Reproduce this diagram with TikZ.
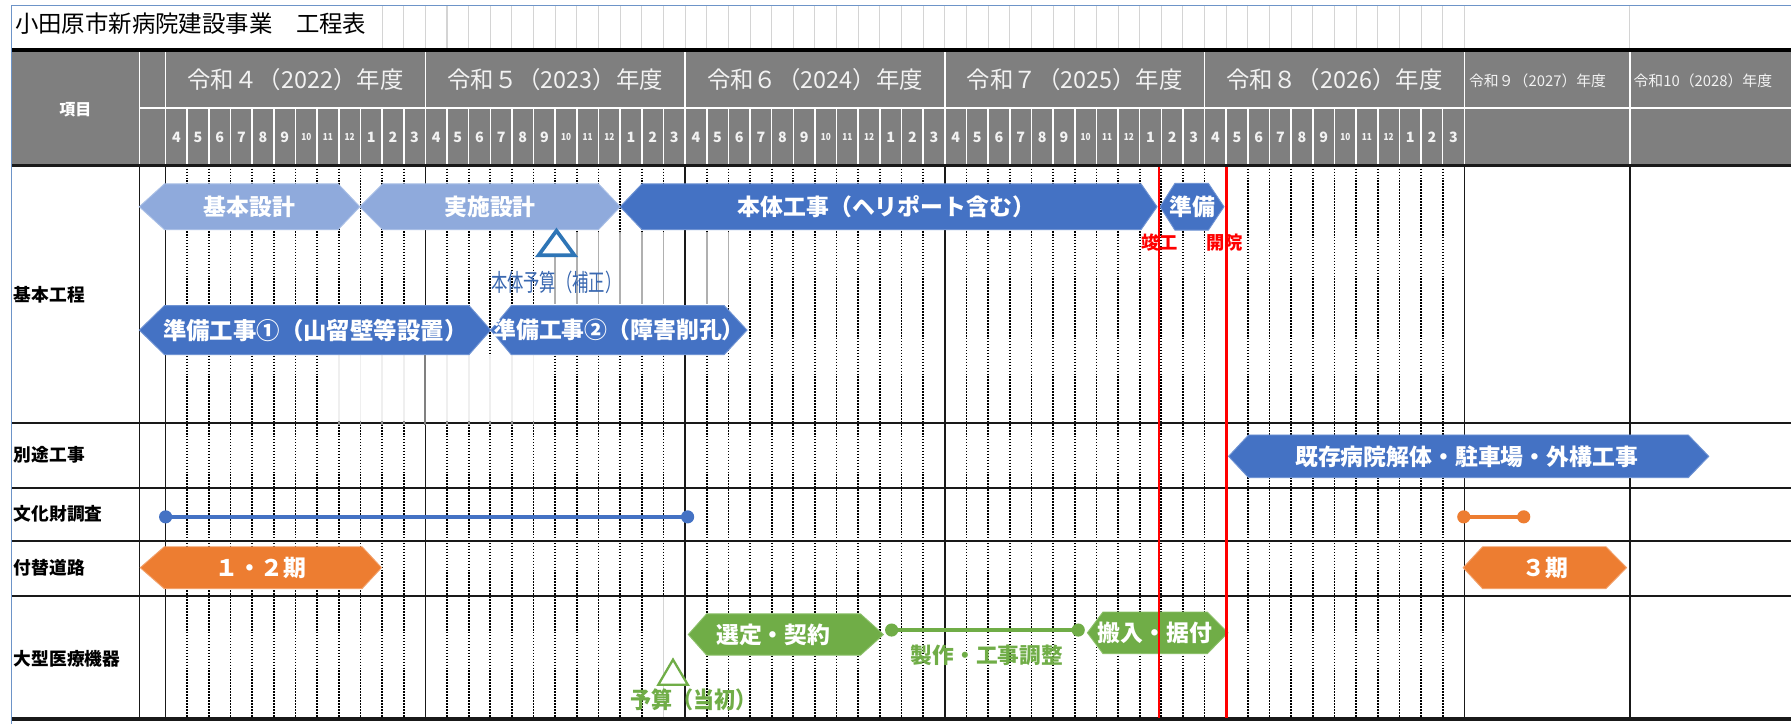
\documentclass[tikz,border=0pt]{standalone}
\usepackage{fontspec}
\setmainfont{Noto Sans CJK JP}
\definecolor{hdrgray}{HTML}{7F7F7F}
\definecolor{ltblue}{HTML}{8FAADC}
\definecolor{ltblueE}{HTML}{A9BFE6}
\definecolor{dkblue}{HTML}{4472C4}
\definecolor{dkblueE}{HTML}{6F93D3}
\definecolor{orng}{HTML}{ED7D31}
\definecolor{orngE}{HTML}{F2A06A}
\definecolor{grn}{HTML}{70AD47}
\definecolor{grnE}{HTML}{8CC06A}
\definecolor{triblue}{HTML}{2E75B6}
\definecolor{lbltext}{HTML}{3A68B0}
\definecolor{bordblue}{HTML}{6D94C8}
\definecolor{titlegrid}{HTML}{D4D4D4}
\definecolor{ghostgray}{HTML}{B0B0B0}
\definecolor{mred}{HTML}{FF0000}
\definecolor{hdrtext}{HTML}{F2F2F2}
\definecolor{gridblack}{HTML}{000000}
\newcommand\myfs[1]{\fontsize{#1}{#1}\selectfont}
\newcommand\hexpath[7]{%
  \path[#7] (#1,#3) -- ({#1+#5},{#3-#4}) -- ({#2-#6},{#3-#4}) -- (#2,#3) -- ({#2-#6},{#3+#4}) -- ({#1+#5},{#3+#4}) -- cycle;}
\begin{document}
\begin{tikzpicture}[x=1pt,y=-1pt,
  bartext/.style={text=white,font=\myfs{20}\bfseries,inner sep=0pt},
  rowlabel/.style={anchor=west,font=\myfs{15.5}\bfseries,inner sep=0pt},
  yearlabel/.style={text=hdrtext,font=\myfs{20.5},inner sep=0pt},
  yearsmall/.style={text=hdrtext,font=\myfs{13},inner sep=0pt,anchor=west},
  monthlabel/.style={text=hdrtext,font=\myfs{12.5}\bfseries,inner sep=0pt},
  monthsmall/.style={text=hdrtext,font=\myfs{8.5}\bfseries,inner sep=0pt},
  dotline/.style={gridblack,line width=1.5pt,dash pattern=on 1.4pt off 1.2pt},
  solidline/.style={gridblack!90,line width=1.4pt},
  rowline/.style={gridblack!90,line width=2pt},
  hdrline/.style={white,line width=1.4pt},
  lbbar/.style={fill=ltblue,draw=ltblueE,line width=0.8pt},
  dbbar/.style={fill=dkblue,draw=dkblueE,line width=0.8pt},
  orbar/.style={fill=orng,draw=orngE,line width=0.8pt},
  gnbar/.style={fill=grn,draw=grnE,line width=0.8pt},
  endpt/.style={circle,fill=#1,inner sep=0pt,minimum size=11.5pt},
  redline/.style={mred,line width=2.4pt},
  redlabel/.style={text=mred,font=\myfs{16}\bfseries,inner sep=0pt}
]
\useasboundingbox (0,0) rectangle (1568,634);
\fill[white] (0,0) rectangle (1568,634);

% ---------- title row ----------
\foreach \k in {10,...,60}{
  \draw[titlegrid,line width=0.9pt] ({145+\k*18.95},4.5) -- ({145+\k*18.95},44);
}
\draw[titlegrid,line width=0.9pt] (1427,4.5) -- (1427,44);
\node[anchor=west,inner sep=0pt,font=\myfs{20.5}] (title) at (13,21) {小田原市新病院建設事業　工程表};

% ---------- header ----------
\fill[hdrgray] (10,44) rectangle (1568,145);
\draw[hdrline] (122,94.5) -- (1568,94.5);
\foreach \x in {122,145,372.4,599.8,827.2,1054.6,1282,1427}{
  \draw[hdrline] (\x,44) -- (\x,145);
}
\foreach \k in {1,...,59}{
  \draw[hdrline] ({145+\k*18.95},94.5) -- ({145+\k*18.95},145);
}
\node[text=white,font=\myfs{14}\bfseries,inner sep=0pt] (koumoku) at (66,96) {項目};
\node[yearlabel] (y4) at (258.7,70) {令和４（2022）年度};
\node[yearlabel] (y5) at (486.1,70) {令和５（2023）年度};
\node[yearlabel] (y6) at (713.5,70) {令和６（2024）年度};
\node[yearlabel] (y7) at (940.9,70) {令和７（2025）年度};
\node[yearlabel] (y8) at (1168.3,70) {令和８（2026）年度};
\node[yearsmall] (y9) at (1286,71) {令和９（2027）年度};
\node[yearsmall] (y10) at (1430,71) {令和10（2028）年度};
\def\mlist{{4,5,6,7,8,9,10,11,12,1,2,3}}
\foreach \k in {0,...,59}{
  \pgfmathtruncatemacro\mi{mod(\k,12)}
  \pgfmathtruncatemacro\mv{\mlist[\mi]}
  \pgfmathsetmacro\cx{145+(\k+0.5)*18.95}
  \ifnum\mv>9
    \node[monthsmall] (m\k) at (\cx,120) {\scalebox{0.85}[1]{\mv}};
  \else
    \node[monthlabel] (m\k) at (\cx,120) {\mv};
  \fi
}

% ---------- body grid ----------
\foreach \k in {1,...,59}{
  \pgfmathtruncatemacro\mi{mod(\k,12)}
  \ifnum\mi=0
    \ifnum\k=48
      \draw[dotline] ({145+\k*18.95},145) -- ({145+\k*18.95},629);
    \else
      \draw[solidline] ({145+\k*18.95},145) -- ({145+\k*18.95},629);
    \fi
  \else
    \draw[dotline] ({145+\k*18.95},145) -- ({145+\k*18.95},629);
  \fi
}
\foreach \x in {122,145,1282,1427}{
  \draw[solidline] (\x,145) -- (\x,629);
}
\foreach \y in {370.5,427.5,473.5,521.5}{
  \draw[rowline] (10,\y) -- (1568,\y);
}
\draw[gridblack!90,line width=2pt] (10,145) -- (1568,145);
\draw[gridblack!90,line width=3pt] (10,629.5) -- (1568,629.5);
\draw[black,line width=3.2pt] (10,44) -- (1568,44);

% ghost patches
\fill[white] (477,203) rectangle (646,266);
\foreach \k in {18,19,20,21,22,23,25,26}{
  \draw[ghostgray,line width=1.5pt] ({145+\k*18.95},203) -- ({145+\k*18.95},266);
}
\draw[solidline] (599.8,203) -- (599.8,266);
\fill[white] (291,311) rectangle (472,369);
\foreach \k in {8,9,10,11,13,14,15,16,17}{
  \draw[ghostgray!130!black,line width=1.5pt,opacity=0.6] ({145+\k*18.95},311) -- ({145+\k*18.95},372);
}
\draw[gray,line width=1.6pt] (372.4,311) -- (372.4,372);
\fill[white] (576,523) rectangle (586,628);
\draw[titlegrid,line width=1.2pt] (580.85,523) -- (580.85,628);

% outer border
\draw[bordblue,line width=0.8pt] (10,634) -- (10,4.5) -- (1568,4.5);

% ---------- row labels ----------
\node[rowlabel] (r1) at (12,258) {基本工程};
\node[rowlabel] (r2) at (12,398.5) {別途工事};
\node[rowlabel] (r3) at (12,450) {文化財調査};
\node[rowlabel] (r4) at (12,497.5) {付替道路};
\node[rowlabel] (r5) at (12,577) {大型医療機器};

% ---------- bars ----------
\hexpath{122}{315}{181}{20}{22}{19}{lbbar}
\node[bartext] (kihon) at (218.5,181) {基本設計};
\hexpath{315}{543}{181}{20}{20}{19}{lbbar}
\node[bartext] (jisshi) at (429,181) {実施設計};
\hexpath{543}{1013}{181}{20}{19}{14}{dbbar}
\node[bartext] (hontai) at (776,181) {本体工事（ヘリポート含む）};
\hexpath{1015.6}{1071.6}{181}{20.5}{13}{13.7}{dbbar}
\node[bartext] (junbi) at (1043.6,181) {準備};

\hexpath{122}{429.6}{289}{21.5}{22}{19}{dbbar}
\node[bartext,font=\myfs{20.5}\bfseries] (junbi1) at (276,289) {準備工事①（山留壁等設置）};
\hexpath{429.6}{654}{289}{21.5}{18}{20}{dbbar}
\node[bartext] (junbi2) at (542,289) {準備工事②（障害削孔）};

\hexpath{1075.6}{1496}{399.5}{18.7}{17.5}{18}{dbbar}
\node[bartext] (kizon) at (1284,399.5) {既存病院解体・駐車場・外構工事};

\hexpath{122.8}{334}{497}{18.3}{21}{17}{orbar}
\node[bartext] (road12) at (228.4,497) {１・２期};
\hexpath{1281}{1424}{497}{18.3}{17}{18}{orbar}
\node[bartext] (road3) at (1353,497) {３期};

\hexpath{602.6}{773.4}{555.5}{18}{16}{20}{gnbar}
\node[bartext] (sentei) at (677,555.5) {選定・契約};
\hexpath{952}{1075}{554}{18.2}{13.6}{18}{gnbar}
\node[bartext] (hannyu) at (1011,554) {搬入・据付};

% ---------- connectors with end dots ----------
\node[endpt=dkblue] (bz1) at (145,452.5) {};
\node[endpt=dkblue] (bz2) at (602,452.5) {};
\draw[dkblue,line width=3.5pt] (bz1.center) -- (bz2.center);
\node[endpt=orng] (bz3) at (1281.5,452.5) {};
\node[endpt=orng] (bz4) at (1334,452.5) {};
\draw[orng,line width=3.5pt] (bz3.center) -- (bz4.center);
\node[endpt=grn] (g1) at (780.6,551.6) {};
\node[endpt=grn] (g2) at (944,551.6) {};
\draw[grn,line width=3.5pt] (g1.center) -- (g2.center);
\node[text=grn,font=\myfs{19}\bfseries,inner sep=0pt] (seisaku) at (864,574) {製作・工事調整};

% ---------- budget triangles ----------
\draw[triblue,fill=white,line width=3.2pt,line join=miter] (471.5,223.5) -- (503,223.5) -- (487.2,202) -- cycle;
\node[text=lbltext,font=\myfs{21},inner sep=0pt] (yosan1) at (487,247.5) {\scalebox{0.68}[1]{本体予算（補正）}};
\draw[grn,fill=white,line width=2pt] (576.3,599.5) -- (602.2,599.5) -- (589.2,577.5) -- cycle;
\node[text=grn,font=\myfs{20}\bfseries,inner sep=0pt] (yosan2) at (607,613) {\scalebox{0.92}[1]{予算（当初）}};

% ---------- completion / opening ----------
\node[redlabel] (shunko) at (1015,212) {竣工};
\node[redlabel] (kaiin) at (1072,212) {開院};
\coordinate (rl1t) at (1014.7,146);
\coordinate (rl1b) at (1014.7,629);
\coordinate (rl2t) at (1073.6,146);
\coordinate (rl2b) at (1073.6,629);
\draw[redline] (rl1t) -- (rl1b);
\draw[redline] (rl2t) -- (rl2b);
\end{tikzpicture}
\end{document}
